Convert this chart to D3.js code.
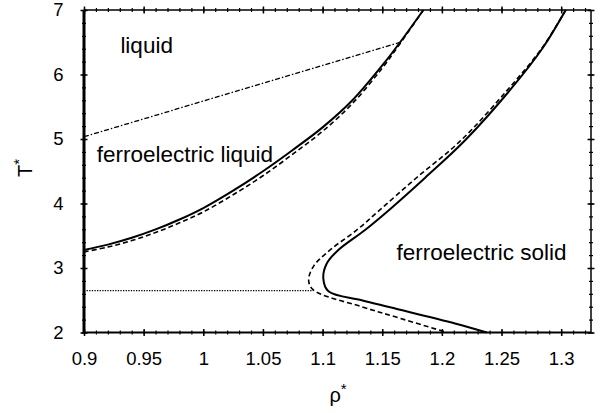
<!DOCTYPE html>
<html><head><meta charset="utf-8">
<script src="https://cdn.jsdelivr.net/npm/d3@7"></script>
<style>body{margin:0;background:#fff}svg{display:block}text{font-family:"Liberation Sans",Arial,Helvetica,sans-serif;fill:#000}</style>
</head><body><svg id="c" width="600" height="413"></svg>
<script>
const xMajorTicks = [0.9,0.95,1.0,1.05,1.1,1.15,1.2,1.25,1.3];
const xTickLabels = ["0.9","0.95","1","1.05","1.1","1.15","1.2","1.25","1.3"];
const yMajorTicks = [2,3,4,5,6,7];
const yTickLabels = ["2","3","4","5","6","7"];
const xMinorTicks = d3.range(0,43).map(i => +(0.9 + i*0.01).toFixed(2));
const yMinorTicks = d3.range(0,26).map(i => +(2 + i*0.2).toFixed(1));

// liquid / ferroelectric liquid boundary
const leftSolid = [[0.90,3.28],[0.92,3.362],[0.94,3.468],[0.96,3.598],[0.98,3.752],[1.00,3.93],[1.025,4.20],[1.05,4.50],[1.075,4.83],[1.10,5.18],[1.125,5.60],[1.15,6.14],[1.165,6.50],[1.1845,7.0]];
const leftDashed = [[0.90,3.25],[0.92,3.325],[0.94,3.425],[0.96,3.55],[0.98,3.70],[1.00,3.87],[1.025,4.135],[1.05,4.43],[1.075,4.765],[1.10,5.12],[1.125,5.55],[1.15,6.10],[1.165,6.48],[1.1845,7.0]];
// ferroelectric liquid / solid boundary
const rightSolid = [[1.3038,7.0],[1.2845,6.41],[1.2572,5.76],[1.2195,4.98],[1.186,4.40],[1.157,3.92],[1.1356,3.59],[1.1132,3.28],[1.1035,3.07],[1.1006,2.84],[1.1049,2.64],[1.1328,2.50],[1.1566,2.39],[1.211,2.14],[1.2377,2.0]];
const rightDashed = [[1.3038,7.0],[1.2835,6.40],[1.2545,5.75],[1.2155,4.97],[1.1775,4.38],[1.148,3.90],[1.1287,3.59],[1.1063,3.28],[1.0925,3.03],[1.0883,2.81],[1.0922,2.66],[1.1328,2.40],[1.1650,2.22],[1.2045,2.0]];
const dotted = [[0.9,2.65],[1.0922,2.65]];
const dashDot = [[0.9,5.035],[1.165,6.50]];

const labels = [
  {t:"liquid", x:0.9305, y:6.33},
  {t:"ferroelectric liquid", x:0.9107, y:4.65},
  {t:"ferroelectric solid", x:1.162, y:3.125}
];

const W=600,H=413, m={l:84,r:9,t:10,b:80.5};
const svg=d3.select("#c");
const x=d3.scaleLinear().domain([0.9,1.325]).range([m.l,W-m.r]);
const y=d3.scaleLinear().domain([2,7]).range([H-m.b,m.t]);

const line=d3.line().x(d=>x(d[0])).y(d=>y(d[1])).curve(d3.curveCatmullRom.alpha(0.5));
const straight=d3.line().x(d=>x(d[0])).y(d=>y(d[1]));

function path(data,gen,w,dash){
  svg.append("path").attr("d",gen(data)).attr("fill","none").attr("stroke","#000")
    .attr("stroke-width",w).attr("stroke-dasharray",dash||null);
}
path(dotted,straight,1.2,"1.3,1.3");
path(dashDot,straight,1.3,"5,2,1.5,2");
path(leftDashed,line,1.6,"5,3");
path(rightDashed,line,1.6,"5,3");
path(leftSolid,line,2);
path(rightSolid,line,2);

const pB=H-m.b, pT=m.t, pL=m.l, pR=W-m.r;
// minor ticks
const gb=svg.append("g").attr("transform",`translate(0,${pB})`)
  .call(d3.axisBottom(x).tickValues(xMinorTicks).tickSize(2).tickFormat(""));
const gt=svg.append("g").attr("transform",`translate(0,${pT})`)
  .call(d3.axisTop(x).tickValues(xMinorTicks).tickSize(2).tickFormat(""));
const gl=svg.append("g").attr("transform",`translate(${pL},0)`)
  .call(d3.axisLeft(y).tickValues(yMinorTicks).tickSize(2).tickFormat(""));
const gr=svg.append("g").attr("transform",`translate(${pR},0)`)
  .call(d3.axisRight(y).tickValues(yMinorTicks).tickSize(2).tickFormat(""));
[gb,gt].forEach(g=>g.selectAll(".tick line").attr("y1",-2).attr("y2",2).attr("stroke-width",1.2));
[gl,gr].forEach(g=>g.selectAll(".tick line").attr("x1",-2).attr("x2",2).attr("stroke-width",1.2));
// major ticks
const gb2=svg.append("g").attr("transform",`translate(0,${pB})`)
  .call(d3.axisBottom(x).tickValues(xMajorTicks).tickSize(3.5).tickPadding(16).tickFormat((d,i)=>xTickLabels[i]));
const gt2=svg.append("g").attr("transform",`translate(0,${pT})`)
  .call(d3.axisTop(x).tickValues(xMajorTicks).tickSize(3.5).tickFormat(""));
const gl2=svg.append("g").attr("transform",`translate(${pL},0)`)
  .call(d3.axisLeft(y).tickValues(yMajorTicks).tickSize(3.5).tickPadding(17).tickFormat((d,i)=>yTickLabels[i]));
const gr2=svg.append("g").attr("transform",`translate(${pR},0)`)
  .call(d3.axisRight(y).tickValues(yMajorTicks).tickSize(3.5).tickFormat(""));
[gb2,gt2].forEach(g=>g.selectAll(".tick line").attr("y1",-3.5).attr("y2",3.5).attr("stroke-width",1.5));
[gl2,gr2].forEach(g=>g.selectAll(".tick line").attr("x1",-3.5).attr("x2",3.5).attr("stroke-width",1.5));
[gb,gt,gl,gr,gb2,gt2,gl2,gr2].forEach(g=>{g.select(".domain").remove();g.attr("font-size",null).attr("font-family",null);});
svg.selectAll(".tick text").style("font-size","18.5px").attr("fill","#000");

// frame
svg.append("line").attr("x1",pL).attr("x2",pR).attr("y1",pT).attr("y2",pT).attr("stroke","#000").attr("stroke-width",1.5);
svg.append("line").attr("x1",pR).attr("x2",pR).attr("y1",pT).attr("y2",pB).attr("stroke","#000").attr("stroke-width",1.5);
svg.append("line").attr("x1",pL-1).attr("x2",pR).attr("y1",pB).attr("y2",pB).attr("stroke","#000").attr("stroke-width",2);
svg.append("line").attr("x1",pL).attr("x2",pL).attr("y1",pT).attr("y2",pB+1).attr("stroke","#000").attr("stroke-width",3);

// region labels
svg.selectAll("text.reg").data(labels).join("text").attr("class","reg")
  .attr("x",d=>x(d.x)).attr("y",d=>y(d.y)).style("font-size","22.5px").text(d=>d.t);

// axis titles
const xt=svg.append("text").attr("x",338).attr("y",402).attr("text-anchor","middle").style("font-size","20px");
xt.append("tspan").text("ρ");
xt.append("tspan").attr("dy",-8).style("font-size","15px").text("*");
const yt=svg.append("text").attr("transform","translate(32,168) rotate(-90)").attr("text-anchor","middle").style("font-size","20px");
yt.append("tspan").text("T");
yt.append("tspan").attr("dy",-8).style("font-size","15px").text("*");
</script></body></html>
